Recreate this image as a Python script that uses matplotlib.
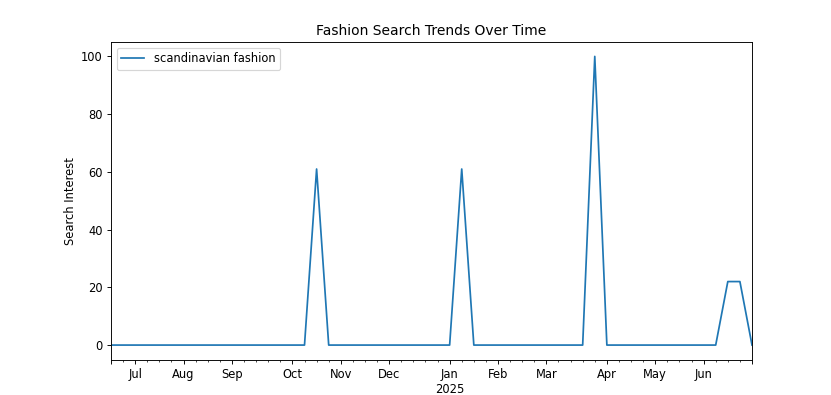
import pandas as pd
from matplotlib import pyplot as plt

# weekly Google-Trends style data, Sundays from 2024-06-23
start_date = "2024-06-23"
n_weeks = 54
term = "scandinavian fashion"

# non-zero weeks (index -> value), everything else is 0
spike_weeks = [17, 29, 40, 51, 52]
spike_values = [61, 61, 100, 22, 22]

values = [0] * n_weeks
for week, value in zip(spike_weeks, spike_values):
	values[week] = value

dates = pd.date_range(start=start_date, periods=n_weeks, freq="W")
df = pd.DataFrame({term: values}, index=dates)

dpi = 831 / 10
figure = plt.figure(figsize=(10, 395 / dpi), dpi=dpi)
axis = figure.add_axes([111 / 831, (395 - 359.5) / 395, 641 / 831, 317.5 / 395])

df.plot(ax=axis)
axis.set_title("Fashion Search Trends Over Time")
axis.set_ylabel("Search Interest")
axis.set_xlabel("")
axis.legend(loc="upper left")

figure.savefig("out.png", dpi=dpi)
